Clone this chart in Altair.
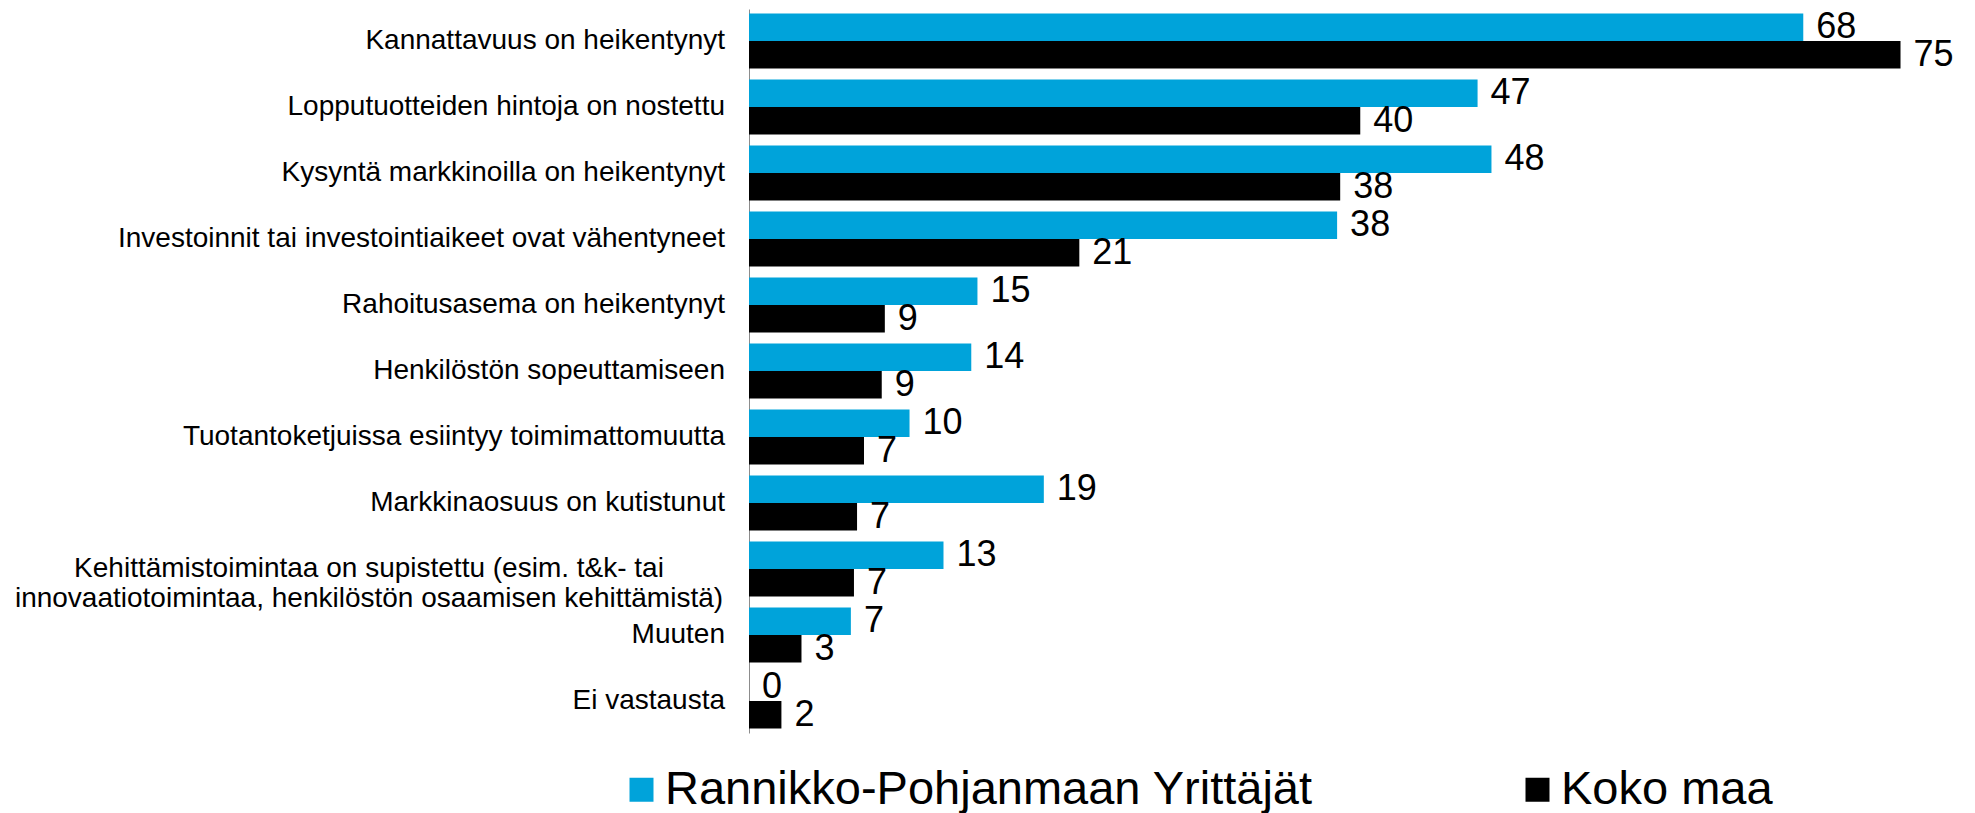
import altair as alt
import pandas as pd

categories = [
    "Kannattavuus on heikentynyt",
    "Lopputuotteiden hintoja on nostettu",
    "Kysyntä markkinoilla on heikentynyt",
    "Investoinnit tai investointiaikeet ovat vähentyneet",
    "Rahoitusasema on heikentynyt",
    "Henkilöstön sopeuttamiseen",
    "Tuotantoketjuissa esiintyy toimimattomuutta",
    "Markkinaosuus on kutistunut",
    "Kehittämistoimintaa on supistettu (esim. t&k- tai\ninnovaatiotoimintaa, henkilöstön osaamisen kehittämistä)",
    "Muuten",
    "Ei vastausta",
]
series = ["Rannikko-Pohjanmaan Yrittäjät", "Koko maa"]
# bar lengths (the labels show them rounded)
rannikko = [68.3, 47.2, 48.1, 38.1, 14.8, 14.4, 10.4, 19.1, 12.6, 6.6, 0]
koko_maa = [74.6, 39.6, 38.3, 21.4, 8.8, 8.6, 7.45, 7.0, 6.8, 3.4, 2.1]
colors = ["#00A3DA", "#000000"]
long_label = categories[8]

rows = []
for c, v in zip(categories, rannikko):
    rows.append({"cat": c, "series": series[0], "value": v})
for c, v in zip(categories, koko_maa):
    rows.append({"cat": c, "series": series[1], "value": v})
df = pd.DataFrame(rows)
cat_df = pd.DataFrame({"cat": categories})

FONT = "Liberation Sans"

y_enc = alt.Y(
    "cat:N",
    sort=categories,
    scale=alt.Scale(domain=categories, paddingInner=0.167, paddingOuter=0.068),
    axis=alt.Axis(labels=False, ticks=False, title=None, grid=False,
                  domain=True, domainColor="#8c8c8c", domainWidth=1),
)
yoff = alt.YOffset("series:N", sort=series,
                   scale=alt.Scale(domain=series, paddingInner=0, paddingOuter=0))
x_enc = alt.X("value:Q", scale=alt.Scale(domain=[0, 78], nice=False), axis=None)

bars = alt.Chart(df).mark_bar().encode(
    y=y_enc,
    yOffset=yoff,
    x=x_enc,
    color=alt.Color(
        "series:N",
        sort=series,
        scale=alt.Scale(domain=series, range=colors),
        legend=alt.Legend(
            orient="none", legendX=-131, legendY=757, direction="horizontal",
            title=None, symbolType="square", symbolSize=576, symbolStrokeWidth=0,
            labelFontSize=47, labelFont=FONT, labelColor="#000000",
            labelOffset=0, columnPadding=201, labelLimit=0,
        ),
    ),
)

values = alt.Chart(df).mark_text(
    align="left", baseline="middle", dx=13, fontSize=36, font=FONT, color="#000000"
).encode(y=y_enc, yOffset=yoff, x=x_enc,
         text=alt.Text("value:Q", format=".0f"))

cat_labels = alt.Chart(cat_df).transform_filter(
    alt.datum.cat != long_label
).mark_text(
    align="right", baseline="middle", fontSize=28, font=FONT, color="#000000"
).encode(y=y_enc, x=alt.value(-24), text="cat:N")

long_lbl = alt.Chart(cat_df).transform_filter(
    alt.datum.cat == long_label
).mark_text(
    align="center", baseline="middle", fontSize=28, font=FONT, color="#000000",
    lineBreak="\n", lineHeight=30,
).encode(y=y_enc, x=alt.value(-380), text="cat:N")

chart = alt.layer(bars, values, cat_labels, long_lbl).properties(
    width=1204,
    height=724,
    padding={"left": 741, "top": 1, "right": 10, "bottom": 80},
    autosize=alt.AutoSizeParams(type="none"),
).configure_view(stroke=None)

chart.save("out.html", embed_options={"renderer": "svg", "actions": False})
